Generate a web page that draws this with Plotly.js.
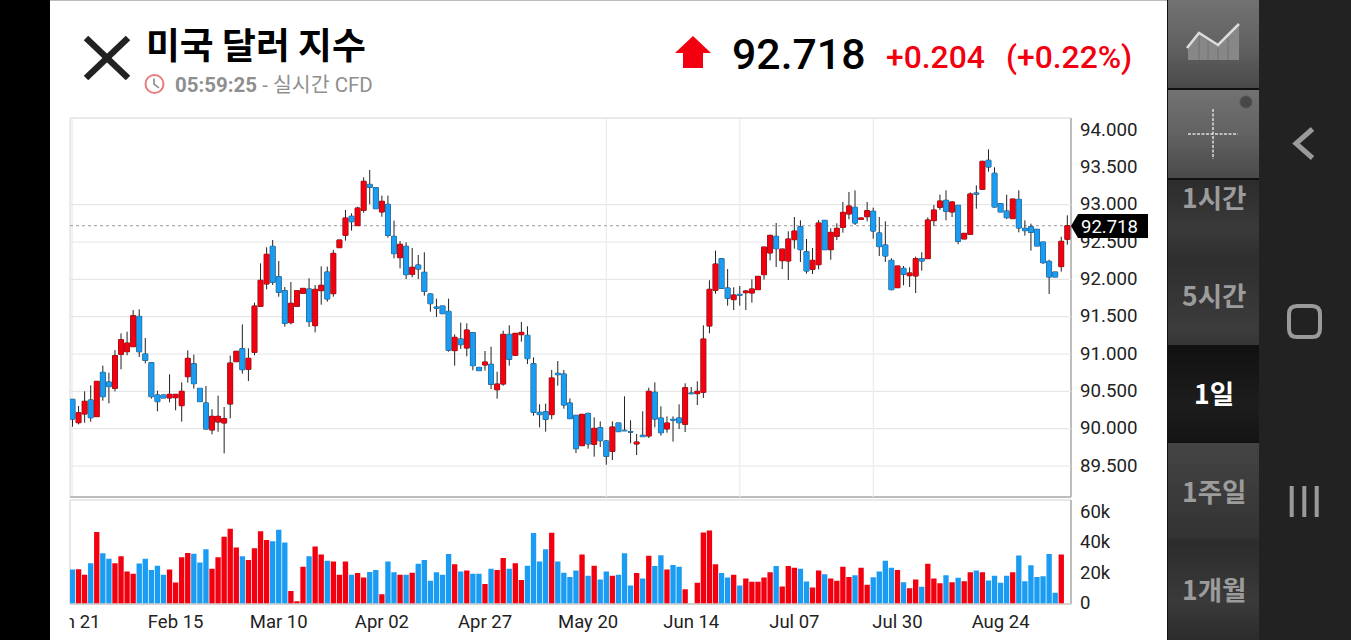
<!DOCTYPE html>
<html><head><meta charset="utf-8">
<script src="https://cdn.plot.ly/plotly-3.0.1.min.js"></script>
<style>
html,body{margin:0;padding:0;width:1351px;height:640px;overflow:hidden;background:#000}
.b{position:absolute}
#chart{position:absolute;left:0;top:0;width:1351px;height:640px}
</style></head><body>
<div class="b" style="left:50px;top:0;width:1117px;height:640px;background:#fff;border-top:1px solid #bbb;box-sizing:border-box"></div>
<div class="b" style="left:1167px;top:0;width:92px;height:640px;background:#111"></div>
<div class="b" style="left:1168px;top:0;width:91px;height:88px;background:linear-gradient(#727272,#626262 50%,#4a4a4a)"></div>
<div class="b" style="left:1168px;top:90px;width:91px;height:88px;background:linear-gradient(#727272,#626262 50%,#4a4a4a)"></div>
<div class="b" style="left:1168px;top:180px;width:91px;height:165px;background:linear-gradient(#2c2c2c,#3a3a3a 30%,#2e2e2e 48%,#3c3c3c 90%,#363636)"></div>
<div class="b" style="left:1168px;top:346px;width:91px;height:96px;background:linear-gradient(#111,#1d1d1d 60%,#141414)"></div>
<div class="b" style="left:1168px;top:443px;width:91px;height:197px;background:linear-gradient(#444,#333 48%,#2c2c2c 50%,#3a3a3a 80%,#2c2c2c)"></div>
<div class="b" style="left:1259px;top:0;width:92px;height:640px;background:#222"></div>
<div id="chart"></div>
<script>
const tickLabels=['Jan 21','Feb 15','Mar 10','Apr 02','Apr 27','May 20','Jun 14','Jul 07','Jul 30','Aug 24'];
const tickBars=[0,17,34,51,68,85,102,119,136,153];
const monthBars=[88,110,132];
const priceTicks=[89.5,90,90.5,91,91.5,92,92.5,93,93.5,94];
const priceGrid=[89.5,90,90.5,91,91.5,92,92.5,93];
const volumeTicks=[0,20,40,60];
const volumeTickLabels=['0','20k','40k','60k'];
const lastPrice=92.718;

const opens=[90.393,90.080,90.196,90.384,90.161,90.754,90.625,90.540,90.996,91.031,91.098,91.504,91.000,90.884,90.451,90.451,90.411,90.415,90.308,90.696,
90.871,90.540,90.344,89.982,90.089,90.076,90.330,90.897,91.071,90.795,91.022,91.638,91.938,92.442,92.036,91.848,91.420,91.638,91.813,91.871,
91.379,91.848,92.098,91.808,92.424,92.589,92.844,92.719,92.924,93.272,93.228,92.902,93.004,92.576,92.290,92.442,92.067,92.192,92.094,91.804,
91.629,91.643,91.571,91.045,91.201,91.080,91.286,90.821,90.853,90.862,90.522,90.598,91.263,90.982,91.259,91.250,90.871,90.219,90.228,90.188,
90.741,90.732,90.344,90.179,89.772,90.205,89.790,90.013,89.835,89.696,90.076,89.978,89.960,89.795,89.911,89.902,90.487,90.143,89.996,90.125,
90.143,90.058,90.478,90.469,90.487,91.375,91.853,92.277,91.884,91.728,91.799,91.821,91.817,91.862,92.063,92.353,92.576,92.250,92.246,92.531,
92.705,92.371,92.134,92.196,92.790,92.397,92.576,92.696,92.875,92.964,92.804,92.839,92.911,92.621,92.460,92.254,91.888,92.147,92.049,92.045,
92.277,92.277,92.786,92.964,93.058,92.902,92.991,92.540,92.603,93.156,93.205,93.594,93.420,93.013,92.915,92.813,93.071,92.683,92.705,92.670,
92.500,92.241,92.098,92.170,92.536];
const highs=[90.393,90.304,90.500,90.580,90.634,90.844,90.750,91.054,91.277,91.299,91.589,91.598,91.214,90.893,90.509,90.455,90.728,90.460,90.621,91.049,
90.991,90.540,90.571,90.259,90.442,90.290,90.978,91.040,91.397,91.076,91.688,92.214,92.429,92.527,92.246,91.897,91.964,91.848,91.879,92.013,
91.924,92.174,92.170,92.393,92.527,92.929,92.884,92.973,93.366,93.464,93.228,93.121,93.121,92.786,92.513,92.496,92.420,92.326,92.362,91.813,
91.741,91.643,91.741,91.263,91.420,91.411,91.290,90.826,91.040,91.098,90.763,91.313,91.384,91.277,91.429,91.371,90.955,90.326,90.335,90.786,
90.906,90.786,90.406,90.183,90.196,90.214,90.152,90.098,89.848,90.098,90.076,90.433,90.112,89.929,90.232,90.549,90.621,90.299,90.165,90.165,
90.326,90.607,90.558,90.634,91.384,91.987,92.384,92.277,92.138,91.893,91.911,91.857,92.000,92.040,92.433,92.598,92.754,92.406,92.643,92.835,
92.790,92.540,92.420,92.795,92.790,92.683,92.750,93.036,93.170,93.192,92.821,93.036,92.960,92.835,92.777,92.281,92.179,92.179,92.161,92.304,
92.362,92.830,92.996,93.134,93.192,93.049,92.996,92.616,93.165,93.259,93.589,93.741,93.500,93.013,93.134,93.076,93.192,92.790,92.746,92.674,
92.500,92.263,92.098,92.571,92.857];
const lows=[90.027,90.058,90.080,90.094,90.161,90.375,90.339,90.500,90.795,90.982,91.098,90.960,90.875,90.402,90.232,90.411,90.353,90.246,90.094,90.616,
90.536,90.362,89.987,89.924,89.960,89.670,90.138,90.897,90.737,90.638,90.982,91.638,91.866,91.924,91.768,91.366,91.397,91.638,91.813,91.362,
91.290,91.661,91.701,91.768,92.424,92.518,92.652,92.719,92.893,93.004,92.946,92.839,92.558,92.281,92.147,92.004,92.027,92.004,91.781,91.567,
91.496,91.540,91.031,90.844,91.067,90.969,90.781,90.777,90.777,90.531,90.402,90.576,90.844,90.982,91.165,90.866,90.174,90.018,89.960,90.125,
90.576,90.268,90.129,89.674,89.768,89.732,89.625,89.754,89.518,89.580,89.960,89.973,89.804,89.647,89.893,89.875,90.018,89.906,89.946,89.826,
89.996,89.955,90.469,90.317,90.411,91.277,91.808,91.879,91.647,91.589,91.647,91.589,91.688,91.862,91.996,92.254,92.165,92.138,91.991,92.411,
92.232,92.076,92.071,92.134,92.397,92.263,92.527,92.625,92.804,92.728,92.804,92.777,92.545,92.313,92.232,91.853,91.888,91.920,91.897,91.817,
92.116,92.277,92.714,92.929,92.790,92.835,92.469,92.540,92.603,92.946,93.205,93.442,92.960,92.902,92.808,92.813,92.629,92.585,92.384,92.446,
92.205,91.804,92.031,92.103,92.464];
const closes=[90.129,90.214,90.366,90.147,90.634,90.429,90.563,90.978,91.192,91.147,91.513,91.031,90.915,90.429,90.362,90.411,90.460,90.460,90.500,90.942,
90.603,90.362,89.996,90.165,90.165,90.134,90.879,91.036,90.790,90.942,91.643,91.987,92.335,91.960,91.826,91.411,91.679,91.848,91.879,91.433,
91.866,91.920,91.737,92.348,92.527,92.821,92.772,92.955,93.313,93.232,92.946,93.045,92.589,92.344,92.469,92.063,92.161,92.138,91.839,91.674,
91.616,91.540,91.049,91.223,91.125,91.321,90.844,90.777,90.893,90.594,90.598,91.263,90.929,91.277,91.290,90.938,90.219,90.188,90.125,90.679,
90.723,90.317,90.134,89.732,90.192,89.795,90.004,89.839,89.629,90.022,89.960,89.973,89.955,89.821,89.893,90.500,90.129,89.946,90.076,90.116,
90.080,90.549,90.469,90.500,91.201,91.866,92.205,91.879,91.746,91.790,91.790,91.844,91.871,92.040,92.433,92.589,92.411,92.406,92.540,92.647,
92.397,92.112,92.254,92.754,92.397,92.629,92.683,92.897,92.982,92.754,92.821,92.920,92.647,92.438,92.313,91.862,92.179,92.067,92.085,92.277,
92.246,92.795,92.929,93.049,92.911,93.036,92.509,92.616,93.143,93.143,93.580,93.504,92.969,92.902,92.826,93.076,92.688,92.652,92.629,92.446,
92.223,92.031,92.031,92.509,92.718];
const volumes=[22.4,22.6,18.9,26.5,47.1,33.1,29.4,26.5,31.1,21.1,19.5,26.3,29.4,22.1,24.8,18.9,22.4,13.8,30.5,33.3,
32.7,27.0,35.7,22.8,30.5,43.9,49.1,36.8,31.1,28.7,36.4,47.6,41.7,41.0,48.5,40.1,8.3,1.5,24.1,31.1,
37.5,32.2,28.1,27.6,18.9,27.6,18.9,20.0,17.1,20.8,22.1,6.1,27.6,20.6,18.9,18.9,20.2,26.1,28.7,14.9,
20.6,18.9,32.5,25.9,21.1,21.7,19.5,19.5,12.9,22.8,22.1,30.0,22.8,26.5,15.4,24.8,46.3,27.6,35.7,46.5,
27.6,20.2,17.5,21.7,32.2,18.2,24.8,15.8,21.1,18.2,18.9,33.1,11.8,20.0,16.4,31.4,24.6,31.8,22.4,25.4,
24.1,9.4,0.2,13.6,46.7,48.0,25.9,20.0,17.1,18.9,11.8,16.4,14.3,14.3,17.1,20.6,24.6,11.2,24.6,23.5,
22.8,14.5,10.5,21.7,19.3,16.4,14.9,24.1,17.5,18.6,23.5,12.3,17.3,21.1,28.1,23.5,22.1,14.0,10.1,15.8,
11.0,26.1,16.4,13.4,18.6,14.0,16.9,14.7,20.6,21.7,20.6,15.1,18.2,13.6,18.2,20.6,31.6,14.7,25.2,17.5,
18.0,32.5,7.0,32.2,0];

const RED='#f2000f', BLUE='#1a9cf2', WICK='#222222';
const W=1351,H=640;
const fx=x=>x/W, fy=y=>1-y/H;
const bars=opens.map((_,i)=>i);
const first=72.5, step=6.066;
const xRange=[(70-first)/step,(1071-first)/step];
const pxP=74.67;
const yRange=[89.5-(497-466)/pxP, 94+(130-118)/pxP];
const volRange=[0,(603.5-499.5)/1.52];
const rf='Roboto, "Noto Sans CJK KR", sans-serif';
const kf='"Noto Sans CJK KR", Roboto, sans-serif';

const traces=[
 {type:'candlestick',x:bars,open:opens,high:highs,low:lows,close:closes,xaxis:'x',yaxis:'y',hoverinfo:'skip',showlegend:false,
  increasing:{line:{color:WICK,width:1},fillcolor:WICK},decreasing:{line:{color:WICK,width:1},fillcolor:WICK}},
 {type:'candlestick',x:bars,open:opens,close:closes,
  high:opens.map((o,i)=>Math.max(o,closes[i])),low:opens.map((o,i)=>Math.min(o,closes[i])),xaxis:'x',yaxis:'y',hoverinfo:'skip',showlegend:false,
  increasing:{line:{color:RED,width:0.5},fillcolor:RED},decreasing:{line:{color:BLUE,width:0.5},fillcolor:BLUE}},
 {type:'bar',x:bars,y:volumes,xaxis:'x2',yaxis:'y2',hoverinfo:'skip',showlegend:false,
  marker:{color:opens.map((o,i)=>closes[i]>=o?RED:BLUE),line:{width:0}}}
];

function line(x0,y0,x1,y1,color,width,dash,layer){return {type:'line',xref:'paper',yref:'paper',layer:layer||'above',x0:fx(x0),y0:fy(y0),x1:fx(x1),y1:fy(y1),line:{color,width,dash:dash||'solid'}};}
function path(pts,close,fill,color,width,dash){return {type:'path',xref:'paper',yref:'paper',layer:'above',
  path:'M'+pts.map(p=>fx(p[0])+','+fy(p[1])).join(' L')+(close?' Z':''),fillcolor:fill||'rgba(0,0,0,0)',line:{color:color||'rgba(0,0,0,0)',width:width||0,dash:dash||'solid'}};}
function note(text,x,y,size,color,anchor,family,weight){return {text,xref:'paper',yref:'paper',x:fx(x),y:fy(y),xanchor:anchor||'left',yanchor:'middle',showarrow:false,borderpad:0,
  font:{size,color,family:family||rf,weight:weight||400}};}

const shapes=[
 ...priceGrid.map(v=>({type:'line',xref:'x',yref:'y',layer:'below',x0:xRange[0],x1:xRange[1],y0:v,y1:v,line:{color:'#e6e6e6',width:1.2}})),
 ...monthBars.map(v=>({type:'line',xref:'x',yref:'y',layer:'below',x0:v,x1:v,y0:yRange[0],y1:yRange[1],line:{color:'#ececec',width:1.2}})),
 {type:'line',xref:'x',yref:'y',layer:'below',x0:xRange[0],x1:xRange[1],y0:lastPrice,y1:lastPrice,line:{color:'#9a9a9a',width:1,dash:'dot'}},
 // panel borders
 line(70,118,1071,118,'#d4d4d4',1,'solid','below'),
 line(70,118,70,497,'#d8d8d8',1,'solid','below'), line(72,118,72,497,'#e4e4e4',1,'solid','below'),
 line(1071,118,1071,497,'#bdbdbd',2,'solid','below'),
 line(70,497,1071,497,'#bdbdbd',2,'solid','below'),
 line(70,500,1071,500,'#d4d4d4',1,'solid','below'),
 line(70,500,70,604,'#d0d0d0',1,'solid','below'),
 line(1071,500,1071,604,'#bdbdbd',2,'solid','below'),
 line(70,604,1071,604,'#c4c4c4',1.5,'solid','below'),
 // clip of the first date label at the panel edge
 {type:'rect',xref:'paper',yref:'paper',layer:'above',x0:fx(50),x1:fx(69.5),y0:fy(640),y1:fy(606),fillcolor:'#fff',line:{width:0}},
 {type:'rect',xref:'paper',yref:'paper',layer:'above',x0:fx(30),x1:fx(50),y0:fy(640),y1:fy(606),fillcolor:'#000',line:{width:0}},
 // last-price tag
 path([[1071,226],[1078,214],[1148,214],[1148,238],[1078,238]],true,'#000'),
 // close X
 line(86,38,128,78,'#222',6.5), line(128,38,86,78,'#222',6.5),
 // clock
 {type:'circle',xref:'paper',yref:'paper',layer:'above',x0:fx(145.5),x1:fx(163.5),y0:fy(93),y1:fy(75),line:{color:'#e97c7c',width:2},fillcolor:'rgba(0,0,0,0)'},
 path([[154,78.5],[154,84],[159,88]],false,null,'#888',1.6),
 // up arrow
 path([[693,36],[711,53],[703,53],[703,68],[683,68],[683,53],[675,53]],true,RED),
 // chart button
 path([[1188,60],[1188,48],[1199,35],[1218,47],[1239,26],[1239,60]],true,'#878787'),
 line(1199,36,1199,60,'#707070',1), line(1208,41,1208,60,'#707070',1), line(1218,48,1218,60,'#707070',1), line(1228,38,1228,60,'#707070',1),
 path([[1187,48],[1199,33],[1218,45],[1239,24]],false,null,'#dcdcdc',2.6),
 // crosshair button
 line(1188,134,1238,134,'#dddddd',1.5,'3px,1.5px'), line(1213,109,1213,159,'#dddddd',1.5,'3px,1.5px'),
 {type:'circle',xref:'paper',yref:'paper',layer:'above',x0:fx(1240),x1:fx(1252),y0:fy(108),y1:fy(96),fillcolor:'#484848',line:{color:'#555',width:1}},
 // navigation bar
 path([[1312.5,129],[1296,143.5],[1312.5,158]],false,null,'#9a9a9a',5),
 {type:'path',xref:'paper',yref:'paper',layer:'above',fillcolor:'rgba(0,0,0,0)',line:{color:'#9a9a9a',width:4},
  path:['M',fx(1297),fy(306),'L',fx(1312),fy(306),'Q',fx(1320),fy(306),fx(1320),fy(314),'L',fx(1320),fy(329),'Q',fx(1320),fy(337),fx(1312),fy(337),'L',fx(1297),fy(337),'Q',fx(1289),fy(337),fx(1289),fy(329),'L',fx(1289),fy(314),'Q',fx(1289),fy(306),fx(1297),fy(306),'Z'].join(' ')},
 line(1291.7,486,1291.7,517,'#9a9a9a',4), line(1304.3,486,1304.3,517,'#9a9a9a',4), line(1316.7,486,1316.7,517,'#9a9a9a',4)
];

const annotations=[
 note('미국 달러 지수',145,43,36.8,'#000','left',kf,700),
 note('<b>05:59:25</b> - 실시간 CFD',173.5,85.5,20.5,'#8f8f8f'),
 note('92.718',731,53.5,42.8,'#000','left',rf,500),
 note('+0.204',885,57,31.8,'#f2000f','left',rf,500),
 note('(+0.22%)',1004.5,57,31.8,'#f2000f','left',rf,500),
 note('92.718',1080,227,18.5,'#fff'),
 note('1시간',1214,196.5,26.5,'#9c9c9c','center',kf,700),
 note('5시간',1214,294.5,26.5,'#9c9c9c','center',kf,700),
 note('1일',1214,392.5,26.5,'#ffffff','center',kf,700),
 note('1주일',1214,490.5,26.5,'#9c9c9c','center',kf,700),
 note('1개월',1214,588.5,26.5,'#9c9c9c','center',kf,700)
];

const axisBase={showline:false,zeroline:false,showgrid:false};
const layout={
 width:W,height:H,margin:{l:0,r:0,t:0,b:0,pad:0},autosize:false,
 paper_bgcolor:'rgba(0,0,0,0)',plot_bgcolor:'rgba(0,0,0,0)',showlegend:false,
 font:{family:rf,color:'#222'},boxgap:0.2,boxgroupgap:0,bargap:0.12,
 xaxis:{...axisBase,domain:[fx(70),fx(1071)],range:xRange,type:'linear',anchor:'y',showticklabels:false,ticks:'',rangeslider:{visible:false}},
 yaxis:{...axisBase,domain:[fy(497),fy(118)],range:yRange,anchor:'x',side:'right',tickmode:'array',tickvals:priceTicks,ticktext:priceTicks.map(v=>v.toFixed(3)),ticks:'',ticklabelstandoff:8,ticklabelshift:-1,tickfont:{size:18.7,color:'#222',family:rf}},
 xaxis2:{...axisBase,domain:[fx(70),fx(1071)],range:xRange,type:'linear',anchor:'y2',tickmode:'array',tickvals:tickBars,ticktext:tickLabels,ticks:'',ticklabelstandoff:5,tickfont:{size:18.5,color:'#222',family:rf}},
 yaxis2:{...axisBase,domain:[fy(603.5),fy(499.5)],range:volRange,anchor:'x2',side:'right',tickmode:'array',tickvals:volumeTicks,ticktext:volumeTickLabels,ticks:'',ticklabelstandoff:8,ticklabelshift:-1,tickfont:{size:18.5,color:'#222',family:rf}},
 shapes,annotations
};
Plotly.newPlot('chart',traces,layout,{displayModeBar:false,staticPlot:true});
</script>
</body></html>
